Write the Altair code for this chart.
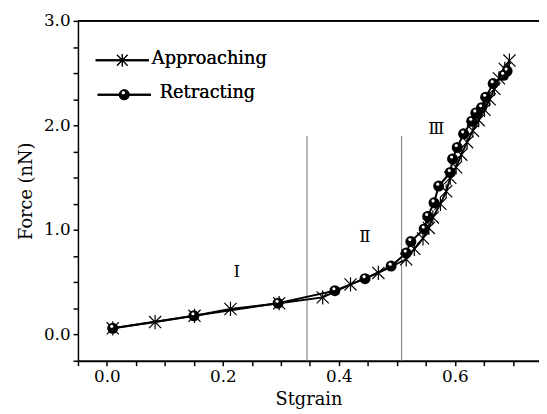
import altair as alt
import pandas as pd

# ---- data ----
appr_x = [0.010, 0.083, 0.151, 0.213, 0.297, 0.372, 0.420, 0.468, 0.516, 0.530, 0.545,
          0.555, 0.562, 0.575, 0.585, 0.592, 0.602, 0.611, 0.621, 0.631, 0.641, 0.651,
          0.660, 0.668, 0.676, 0.686, 0.694]
appr_y = [0.06, 0.12, 0.18, 0.245, 0.30, 0.356, 0.48, 0.59, 0.72, 0.82, 0.92,
          1.02, 1.12, 1.25, 1.37, 1.50, 1.60, 1.72, 1.84, 1.95, 2.05, 2.15,
          2.25, 2.35, 2.45, 2.54, 2.62]

retr_x = [0.010, 0.150, 0.295, 0.393, 0.445, 0.490, 0.516, 0.524, 0.547, 0.553, 0.564,
          0.572, 0.592, 0.596, 0.604, 0.615, 0.629, 0.636, 0.646, 0.653, 0.666, 0.684, 0.690]
retr_y = [0.06, 0.18, 0.30, 0.42, 0.535, 0.655, 0.78, 0.89, 1.01, 1.13, 1.26,
          1.42, 1.55, 1.68, 1.79, 1.92, 2.04, 2.12, 2.17, 2.27, 2.40, 2.48, 2.52]

region_x = [0.345, 0.508]
region_top = 1.9
region_bottom = -0.25

label_text = ["Ⅰ", "Ⅱ", "Ⅲ"]
label_x = [0.224, 0.445, 0.568]
label_y = [0.60, 0.93, 1.97]

legend_names = ["Approaching", "Retracting"]

X_DOMAIN = [-0.05, 0.745]
Y_DOMAIN = [-0.25, 3.0]
W, H = 468, 345
FONT = "DejaVu Serif"

appr = pd.DataFrame({"x": appr_x, "y": appr_y})
retr = pd.DataFrame({"x": retr_x, "y": retr_y})
rules = pd.DataFrame({"x": region_x, "y": [region_top] * 2, "y2": [region_bottom] * 2})
labels = pd.DataFrame({"x": label_x, "y": label_y, "t": label_text})

x_ticks = [round(-0.05 + 0.05 * i, 2) for i in range(16)]
y_ticks = [round(-0.25 + 0.25 * i, 2) for i in range(14)]

xscale = alt.Scale(domain=X_DOMAIN, nice=False, zero=False)
yscale = alt.Scale(domain=Y_DOMAIN, nice=False, zero=False)

x_axis = alt.Axis(
    values=x_ticks,
    labelExpr="(abs(round(datum.value*100)) % 20 == 0) ? format(datum.value, '.1f') : ''",
    title="Stgrain", grid=False, tickColor="black", tickWidth=1.5, tickSize=5,
    domainColor="black", domainWidth=2, labelFont=FONT, labelFontSize=17,
    labelColor="black", titleFont=FONT, titleFontSize=18, titleFontWeight="normal",
    titleColor="black", labelPadding=3, titlePadding=6,
)
y_axis = alt.Axis(
    values=y_ticks,
    labelExpr="(abs(round(datum.value*4)) % 4 == 0) ? format(datum.value, '.1f') : ''",
    title="Force (nN)", grid=False, tickColor="black", tickWidth=1.5, tickSize=5,
    domainColor="black", domainWidth=1.5, labelFont=FONT, labelFontSize=17,
    labelColor="black", titleFont=FONT, titleFontSize=18, titleFontWeight="normal",
    titleColor="black", labelPadding=3, titlePadding=8,
)

X = alt.X("x:Q", scale=xscale, axis=x_axis)
Y = alt.Y("y:Q", scale=yscale, axis=y_axis)

ASTER = "M0,-1L0,1M-0.85,-0.85L0.85,0.85M-0.85,0.85L0.85,-0.85"

region_rules = alt.Chart(rules).mark_rule(color="#8a8a8a", strokeWidth=1.2).encode(
    x=X, y=Y, y2="y2:Q")

appr_line = alt.Chart(appr).mark_line(color="black", strokeWidth=2).encode(x=X, y=Y)
appr_pts = alt.Chart(appr).mark_point(shape=ASTER, size=210, filled=False,
                                      color="black", strokeWidth=1.2, opacity=1).encode(x=X, y=Y)
retr_line = alt.Chart(retr).mark_line(color="black", strokeWidth=2).encode(x=X, y=Y)
retr_pts = alt.Chart(retr).mark_point(shape="circle", size=125, filled=True,
                                      color="black", opacity=1).encode(x=X, y=Y)
retr_hi = alt.Chart(retr).mark_point(shape="circle", size=10, filled=True, color="white",
                                     opacity=1, xOffset=-1, yOffset=-2).encode(x=X, y=Y)

region_labels = alt.Chart(labels).mark_text(font=FONT, fontSize=17, color="black").encode(
    x=X, y=Y, text="t:N")

# frame top line
top_line = alt.Chart(rules).mark_rule(color="black", strokeWidth=2).encode(
    x=alt.value(0), x2=alt.value(W), y=alt.value(0))

# ---- in-plot legend ----
leg = []
leg.append(alt.Chart(rules).mark_rule(color="black", strokeWidth=2).encode(
    x=alt.value(18), x2=alt.value(72), y=alt.value(40)))
leg.append(alt.Chart(rules).mark_point(shape=ASTER, size=160, filled=False, color="black",
                                       strokeWidth=1.1, opacity=1).encode(
    x=alt.value(45), y=alt.value(40)))
leg.append(alt.Chart(rules).mark_text(text=legend_names[0], font=FONT, fontSize=18,
                                      align="left", baseline="middle", color="black").encode(
    x=alt.value(75), y=alt.value(39)))
leg.append(alt.Chart(rules).mark_rule(color="black", strokeWidth=2).encode(
    x=alt.value(20), x2=alt.value(74), y=alt.value(75)))
leg.append(alt.Chart(rules).mark_point(shape="circle", size=120, filled=True, color="black",
                                       opacity=1).encode(x=alt.value(47), y=alt.value(75)))
leg.append(alt.Chart(rules).mark_point(shape="circle", size=10, filled=True, color="white",
                                       opacity=1, xOffset=-1, yOffset=-2).encode(
    x=alt.value(47), y=alt.value(75)))
leg.append(alt.Chart(rules).mark_text(text=legend_names[1], font=FONT, fontSize=18,
                                      align="left", baseline="middle", color="black").encode(
    x=alt.value(83), y=alt.value(73)))

chart = alt.layer(
    region_rules, appr_line, retr_line, appr_pts, retr_pts, retr_hi, region_labels,
    top_line, *leg
).properties(
    width=W, height=H,
    autosize=alt.AutoSizeParams(type="none"),
    padding={"left": 71, "top": 10, "right": 0, "bottom": 51},
    background="white",
).configure_view(stroke=None)

chart.save("out.html", embed_options={"renderer": "svg", "actions": False})
